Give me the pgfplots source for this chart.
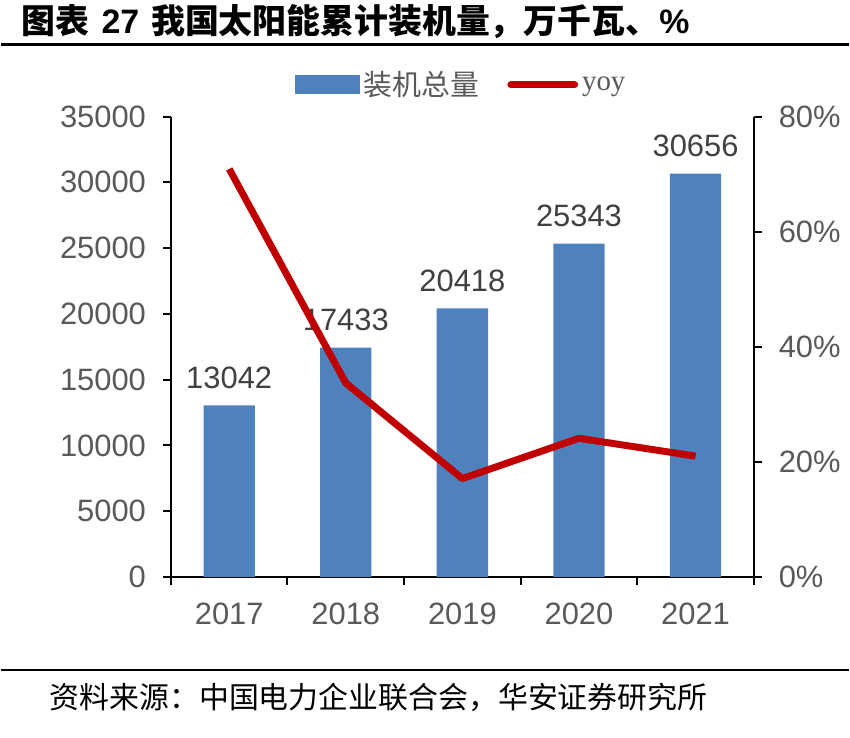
\documentclass[border=0pt]{standalone}
\usepackage{fontspec}
\setmainfont{Liberation Sans}
\newfontfamily\cjk{Noto Sans CJK SC}
\newfontfamily\serifsub{Liberation Serif}
\usepackage{pgfplots}
\pgfplotsset{compat=1.18}
\definecolor{barblue}{HTML}{4F81BD}
\definecolor{linered}{HTML}{C00000}
\definecolor{tickgray}{HTML}{595959}
\definecolor{labgray}{HTML}{404040}

\pgfplotsset{
  common/.style={
    at={(85pt,80.5pt)}, anchor=south west, scale only axis,
    width=292.5pt, height=231pt,
    xmin=-0.5, xmax=4.5,
    axis line style={line width=1pt, -},
    tick style={line width=1pt, black},
    tick align=outside,
    ticklabel style={font=\fontsize{15.5}{17}\selectfont, text=tickgray},
    /pgf/number format/assume math mode=true,
  }
}

\begin{document}
\begin{tikzpicture}
\path (0pt,0pt) rectangle (425pt,370pt);
\node[anchor=west, inner sep=0] at (10pt,359pt)
  {\fontsize{17}{19}\selectfont\cjk\bfseries 图表\hspace{6pt}{\rmfamily\bfseries 27}\hspace{6pt}我国太阳能累计装机量，万千瓦、{\rmfamily\bfseries\%}};
\draw[line width=1.5pt] (0pt,347.5pt) -- (425pt,347.5pt);
\draw[line width=1pt] (0pt,34pt) -- (425pt,34pt);
\node[anchor=west, inner sep=0] at (24pt,20pt)
  {\fontsize{15}{17}\selectfont\cjk 资料来源：中国电力企业联合会，华安证券研究所};

\begin{axis}[common,
  ymin=0, ymax=35000,
  axis y line*=left, axis x line*=bottom,
  xtick={0,1,2,3,4},
  xticklabels={2017,2018,2019,2020,2021},
  minor xtick={-0.5,0.5,1.5,2.5,3.5,4.5},
  major x tick style={draw=none},
  major tick length=4pt, minor tick length=4pt,
  ytick={0,5000,10000,15000,20000,25000,30000,35000},
  scaled y ticks=false,
  yticklabel style={/pgf/number format/1000 sep={}, xshift=-5pt},
  xticklabel style={yshift=-5.5pt},
]
\addplot[ybar, bar width=0.44, fill=barblue, draw=none,
  nodes near coords,
  nodes near coords style={font=\fontsize{15.5}{17}\selectfont, text=labgray,
    /pgf/number format/1000 sep={}, /pgf/number format/assume math mode=true, yshift=5pt}]
  coordinates {(0,13042) (1,17433) (2,20418) (3,25343) (4,30656)};
\end{axis}

\begin{axis}[common,
  ymin=0, ymax=80,
  axis y line*=right, axis x line=none,
  ytick={0,20,40,60,80},
  major tick length=4pt,
  yticklabel={\pgfmathprintnumber{\tick}\%},
  yticklabel style={xshift=5pt},
  legend columns=2,
  legend style={at={(0.5,1.069)}, anchor=center, draw=none, fill=none,
    font=\fontsize{14.5}{16}\selectfont, text=tickgray,
    /tikz/every even column/.append style={column sep=12pt}},
]
\addlegendimage{legend image code/.code={\fill[barblue] (0,-4.5pt) rectangle (32pt,4.5pt);}}
\addlegendentry{\cjk 装机总量}
\addplot[linered, line width=3.5pt, line join=round,
  legend image code/.code={\draw[linered, line width=3.5pt, line cap=round] (0,0) -- (32pt,0);}]
  coordinates {(0,70.9) (1,33.7) (2,17.1) (3,24.1) (4,21.0)};
\addlegendentry{\serifsub yoy}
\end{axis}
\end{tikzpicture}
\end{document}
